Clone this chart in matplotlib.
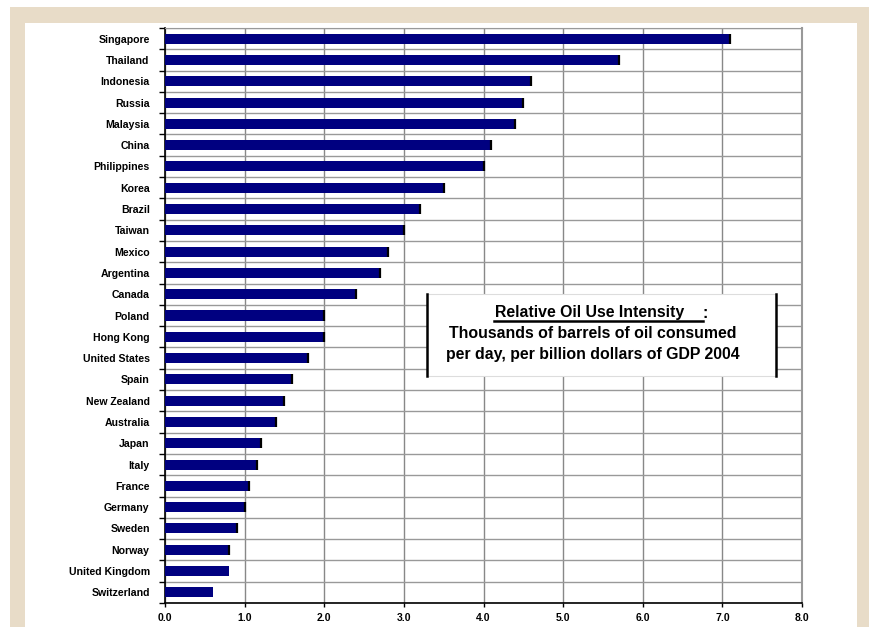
import matplotlib.pyplot as plt
import matplotlib.patches as mpatches
from matplotlib.lines import Line2D
import numpy as np

plt.rcParams['font.family'] = ['Liberation Sans', 'DejaVu Sans']

countries = ['Singapore', 'Thailand', 'Indonesia', 'Russia', 'Malaysia', 'China',
             'Philippines', 'Korea', 'Brazil', 'Taiwan', 'Mexico', 'Argentina',
             'Canada', 'Poland', 'Hong Kong', 'United States', 'Spain', 'New Zealand',
             'Australia', 'Japan', 'Italy', 'France', 'Germany', 'Sweden', 'Norway',
             'United Kingdom', 'Switzerland']
intensity = [7.1, 5.7, 4.6, 4.5, 4.4, 4.1, 4.0, 3.5, 3.2, 3.0, 2.8, 2.7, 2.4, 2.0, 2.0,
             1.8, 1.6, 1.5, 1.4, 1.2, 1.15, 1.05, 1.0, 0.9, 0.8, 0.8, 0.6]
x_ticks = [0, 1, 2, 3, 4, 5, 6, 7, 8]

W, H = 869, 627
fig = plt.figure(figsize=(W / 100, H / 100), dpi=100, facecolor='white')

def fx(px):
    return px / W

def fy(py):
    return 1 - py / H

# beige frame and white panel
fig.add_artist(mpatches.Rectangle((fx(10), 0), 1, fy(7), transform=fig.transFigure,
                                  facecolor='#e8dcc8', edgecolor='none', zorder=0))
fig.add_artist(mpatches.Rectangle((fx(25), 0), fx(857) - fx(25), fy(23),
                                  transform=fig.transFigure,
                                  facecolor='white', edgecolor='none', zorder=0))

ax = fig.add_axes([fx(165), fy(603), fx(802) - fx(165), fy(28) - fy(603)])
ax.set_facecolor('white')

pos = np.arange(len(countries))
bar_h = 0.47
ax.barh(pos, intensity, height=bar_h, color='#000080', edgecolor='none', zorder=3)
# dark right edge on the bars
edged = pos[:-2]
ax.vlines(np.array(intensity)[:-2], edged - bar_h / 2, edged + bar_h / 2,
          color='black', linewidth=1.6, zorder=4)

ax.set_xlim(0, 8)
ax.set_ylim(len(countries) - 0.5, -0.5)

ax.set_xticks(x_ticks)
ax.set_xticklabels([f'{v:.1f}' for v in x_ticks], fontsize=7.5, fontweight='bold')
ax.set_yticks(pos)
ax.set_yticklabels(countries, fontsize=7.6, fontweight='bold')
ax.set_yticks(np.arange(-0.5, len(countries), 1.0), minor=True)

ax.tick_params(axis='y', which='major', length=0, pad=11)
ax.tick_params(axis='y', which='minor', length=4, width=1, direction='out', color='black')
ax.tick_params(axis='x', which='major', length=3, width=1, direction='out', pad=4)

ax.grid(axis='x', which='major', color='#888888', linewidth=1, zorder=1)
ax.grid(axis='y', which='minor', color='#999999', linewidth=1, zorder=1)
ax.set_axisbelow(True)

for s in ['left', 'bottom']:
    ax.spines[s].set_color('black')
    ax.spines[s].set_linewidth(1.2)
ax.spines['top'].set_color('#999999')
ax.spines['right'].set_color('#999999')
ax.spines['right'].set_linewidth(1.5)

# annotation box
bx0, bx1, by0, by1 = 427, 776, 294, 376
box = mpatches.Rectangle((fx(bx0), fy(by1)), fx(bx1) - fx(bx0), fy(by0) - fy(by1),
                         transform=fig.transFigure, facecolor='white',
                         edgecolor='#dddddd', linewidth=0.8, zorder=5)
fig.add_artist(box)
for xe in (bx0, bx1):
    fig.add_artist(Line2D([fx(xe), fx(xe)], [fy(by0), fy(by1)], transform=fig.transFigure,
                          color='black', linewidth=1.8, zorder=6))

fs = 11.4
fig.text(fx(590), fy(313), 'Relative Oil Use Intensity', ha='center', va='center',
         fontsize=fs, fontweight='bold', zorder=7)
fig.text(fx(705), fy(313), ':', ha='center', va='center',
         fontsize=fs, fontweight='bold', zorder=7)
fig.add_artist(Line2D([fx(494), fx(703)], [fy(321), fy(321)], transform=fig.transFigure,
                      color='black', linewidth=1.8, zorder=7))
fig.text(fx(593), fy(334), 'Thousands of barrels of oil consumed', ha='center', va='center',
         fontsize=fs, fontweight='bold', zorder=7)
fig.text(fx(593), fy(355), 'per day, per billion dollars of GDP 2004', ha='center',
         va='center', fontsize=fs, fontweight='bold', zorder=7)

fig.savefig('out.png', dpi=100, facecolor=fig.get_facecolor())
